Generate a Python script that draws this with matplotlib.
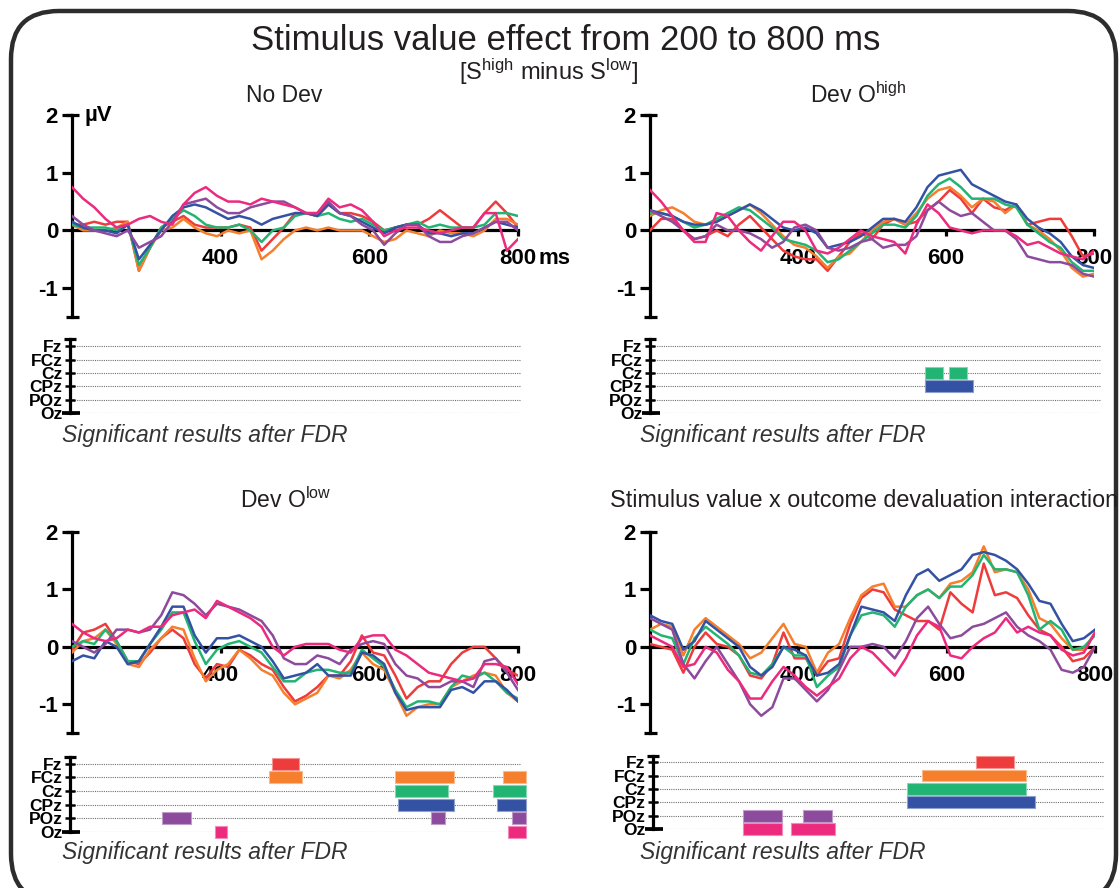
import matplotlib
matplotlib.use('Agg')
import matplotlib.pyplot as plt
from matplotlib.patches import FancyBboxPatch, Rectangle
from matplotlib.lines import Line2D
import matplotlib.colors as mcolors

plt.rcParams['font.family'] = ['Liberation Sans', 'DejaVu Sans']
plt.rcParams['mathtext.fontset'] = 'custom'
plt.rcParams['mathtext.rm'] = 'Liberation Sans'
plt.rcParams['mathtext.it'] = 'Liberation Sans:italic'
plt.rcParams['mathtext.bf'] = 'Liberation Sans:bold'

# ---------------- data ----------------
time_ms = [200, 215, 230, 245, 260, 275, 290, 305, 320, 335, 350, 365, 380, 395,
           410, 425, 440, 455, 470, 485, 500, 515, 530, 545, 560, 575, 590, 605,
           620, 635, 650, 665, 680, 695, 710, 725, 740, 755, 770, 785, 800]

electrodes = ['Fz', 'FCz', 'Cz', 'CPz', 'POz', 'Oz']
colors = {'Fz': '#EE3B3B', 'FCz': '#F57F2C', 'Cz': '#22B472',
          'CPz': '#3452A3', 'POz': '#8C4B9C', 'Oz': '#EC2A7E'}

xtick_vals = [400, 600, 800]
xtick_labels = ['400', '600', '800']
ytick_vals = [-1, 0, 1, 2]
ytick_labels = ['-1', '0', '1', '2']

# Panel 1: No Dev
nodev_fz = [0.10, 0.10, 0.15, 0.10, 0.15, 0.15, -0.70, -0.30, 0.05, 0.15, 0.25, 0.10, 0.05, 0.05,
            0.05, 0.10, 0.05, -0.35, -0.15, 0.05, 0.30, 0.30, 0.25, 0.45, 0.30, 0.30, 0.25, 0.15,
            0.00, 0.05, 0.10, 0.10, 0.20, 0.35, 0.20, 0.05, 0.05, 0.30, 0.50, 0.30, 0.05]
nodev_fcz = [0.10, 0.00, 0.00, 0.00, 0.05, 0.15, -0.70, -0.30, 0.00, 0.05, 0.20, 0.05, -0.05, -0.10,
             0.00, -0.05, 0.00, -0.50, -0.35, -0.15, 0.00, 0.05, 0.00, 0.05, 0.00, 0.00, 0.00, -0.10,
             -0.20, -0.15, 0.00, -0.05, -0.10, 0.00, -0.05, -0.05, -0.10, 0.00, 0.20, 0.20, 0.10]
nodev_cz = [0.10, 0.05, 0.05, 0.05, 0.00, 0.10, -0.60, -0.30, 0.05, 0.20, 0.35, 0.25, 0.10, 0.05,
            0.05, 0.10, 0.00, -0.20, 0.00, 0.05, 0.25, 0.30, 0.25, 0.30, 0.20, 0.15, 0.20, 0.10,
            0.00, 0.05, 0.10, 0.15, 0.05, 0.10, 0.05, 0.05, 0.05, 0.10, 0.30, 0.30, 0.25]
nodev_cpz = [0.15, 0.05, 0.00, 0.00, -0.05, 0.10, -0.50, -0.25, 0.00, 0.25, 0.40, 0.45, 0.40, 0.30,
             0.20, 0.25, 0.20, 0.10, 0.20, 0.25, 0.30, 0.30, 0.25, 0.45, 0.30, 0.25, 0.15, 0.05,
             -0.05, 0.05, 0.10, 0.10, -0.05, -0.05, -0.10, -0.05, -0.05, 0.05, 0.15, 0.10, 0.05]
nodev_poz = [0.25, 0.10, 0.00, -0.05, -0.10, 0.00, -0.30, -0.20, -0.10, 0.15, 0.45, 0.50, 0.55, 0.40,
             0.30, 0.30, 0.40, 0.45, 0.50, 0.50, 0.40, 0.30, 0.30, 0.50, 0.30, 0.25, 0.10, 0.00,
             -0.25, -0.05, 0.10, 0.10, -0.10, -0.20, -0.20, -0.10, -0.05, 0.05, 0.15, 0.15, 0.00]
nodev_oz = [0.75, 0.55, 0.40, 0.20, 0.05, 0.10, 0.20, 0.25, 0.15, 0.10, 0.45, 0.65, 0.75, 0.60,
            0.50, 0.50, 0.45, 0.55, 0.50, 0.45, 0.40, 0.30, 0.30, 0.55, 0.40, 0.45, 0.35, 0.15,
            -0.10, 0.00, 0.05, 0.05, 0.00, -0.05, 0.00, 0.05, 0.05, 0.30, 0.30, -0.35, -0.15]

# Panel 2: Dev O high
devhigh_fz = [0.00, 0.20, 0.20, 0.00, -0.15, -0.10, 0.00, -0.10, 0.10, 0.25, 0.05, -0.15, -0.35, -0.45,
              -0.50, -0.50, -0.70, -0.45, -0.20, -0.05, -0.15, 0.10, 0.20, 0.10, 0.15, 0.35, 0.50, 0.70,
              0.55, 0.30, 0.55, 0.40, 0.35, 0.45, 0.10, 0.15, 0.20, 0.20, -0.10, -0.45, -0.40]
devhigh_fcz = [0.25, 0.35, 0.40, 0.30, 0.15, 0.10, 0.15, 0.25, 0.35, 0.45, 0.30, 0.10, -0.10, -0.25,
               -0.30, -0.45, -0.65, -0.45, -0.40, -0.20, 0.00, 0.15, 0.20, 0.10, 0.30, 0.55, 0.70, 0.75,
               0.60, 0.40, 0.55, 0.50, 0.30, 0.45, 0.10, 0.00, -0.15, -0.35, -0.65, -0.80, -0.75]
devhigh_cz = [0.30, 0.30, 0.25, 0.15, 0.05, 0.10, 0.20, 0.30, 0.40, 0.35, 0.20, 0.05, -0.15, -0.20,
              -0.25, -0.35, -0.55, -0.50, -0.35, -0.20, -0.05, 0.10, 0.10, 0.05, 0.25, 0.60, 0.80, 0.90,
              0.75, 0.55, 0.55, 0.55, 0.45, 0.40, 0.10, -0.05, -0.20, -0.30, -0.55, -0.70, -0.70]
devhigh_cpz = [0.35, 0.30, 0.25, 0.15, 0.10, 0.10, 0.15, 0.25, 0.35, 0.45, 0.35, 0.20, 0.05, 0.00,
               0.05, -0.05, -0.30, -0.25, -0.20, -0.10, 0.05, 0.20, 0.20, 0.15, 0.40, 0.75, 0.95, 1.00,
               1.05, 0.80, 0.70, 0.60, 0.50, 0.45, 0.20, 0.05, -0.05, -0.20, -0.45, -0.60, -0.65]
devhigh_poz = [0.35, 0.25, 0.15, 0.00, -0.15, -0.10, 0.10, 0.00, 0.00, -0.05, -0.15, -0.30, -0.20, 0.05,
               0.10, 0.00, -0.30, -0.35, -0.30, -0.20, -0.15, -0.30, -0.25, -0.25, -0.10, 0.35, 0.50, 0.35,
               0.25, 0.30, 0.15, 0.00, 0.00, -0.15, -0.45, -0.50, -0.55, -0.55, -0.60, -0.75, -0.80]
devhigh_oz = [0.70, 0.50, 0.25, 0.00, -0.20, -0.20, 0.30, 0.25, 0.00, -0.20, -0.35, -0.10, 0.15, 0.15,
              0.00, -0.35, -0.40, -0.30, -0.15, 0.00, -0.10, -0.15, -0.20, -0.40, 0.10, 0.45, 0.30, 0.05,
              0.00, -0.05, 0.00, 0.00, 0.00, -0.10, -0.25, -0.20, -0.30, -0.40, -0.45, -0.50, -0.35]

# Panel 3: Dev O low
devlow_fz = [-0.05, 0.25, 0.30, 0.40, 0.10, -0.25, -0.30, -0.10, 0.15, 0.30, 0.15, -0.30, -0.55, -0.30,
             -0.35, -0.05, -0.15, -0.30, -0.40, -0.70, -0.95, -0.85, -0.70, -0.50, -0.50, -0.25, 0.20, -0.10,
             -0.15, -0.50, -0.90, -0.70, -0.60, -0.60, -0.30, -0.10, 0.00, 0.00, -0.20, -0.40, -0.50]
devlow_fcz = [-0.10, 0.10, 0.15, 0.30, 0.05, -0.30, -0.35, -0.05, 0.15, 0.35, 0.30, -0.20, -0.60, -0.40,
              -0.30, -0.05, -0.20, -0.40, -0.50, -0.80, -1.00, -0.90, -0.80, -0.50, -0.55, -0.40, -0.10, -0.30,
              -0.40, -0.80, -1.20, -1.05, -1.00, -1.00, -0.70, -0.60, -0.50, -0.45, -0.50, -0.80, -0.95]
devlow_cz = [0.00, 0.10, 0.05, 0.30, 0.10, -0.25, -0.25, 0.05, 0.30, 0.60, 0.60, 0.10, -0.30, -0.05,
             0.05, 0.10, 0.00, -0.10, -0.35, -0.60, -0.60, -0.45, -0.40, -0.40, -0.45, -0.45, -0.05, -0.20,
             -0.35, -0.75, -1.05, -0.95, -0.95, -1.00, -0.70, -0.50, -0.55, -0.45, -0.60, -0.80, -0.90]
devlow_cpz = [-0.25, -0.15, -0.20, 0.10, 0.00, -0.30, -0.25, 0.05, 0.35, 0.70, 0.70, 0.20, -0.10, 0.15,
              0.15, 0.20, 0.10, 0.00, -0.25, -0.55, -0.50, -0.45, -0.30, -0.50, -0.50, -0.50, -0.10, -0.15,
              -0.30, -0.80, -1.10, -1.05, -1.05, -1.05, -0.75, -0.70, -0.80, -0.60, -0.60, -0.75, -0.95]
devlow_poz = [0.10, 0.00, -0.10, 0.05, 0.30, 0.30, 0.25, 0.30, 0.55, 0.95, 0.90, 0.75, 0.55, 0.75,
              0.70, 0.65, 0.55, 0.45, 0.20, -0.20, -0.30, -0.30, -0.15, -0.20, -0.30, -0.05, 0.05, 0.10,
              0.05, -0.30, -0.50, -0.55, -0.70, -0.70, -0.60, -0.60, -0.70, -0.25, -0.20, -0.45, -0.75]
devlow_oz = [0.40, 0.25, 0.15, 0.10, 0.15, 0.30, 0.25, 0.35, 0.35, 0.55, 0.60, 0.65, 0.50, 0.80,
             0.70, 0.60, 0.50, 0.35, 0.00, -0.15, 0.00, 0.05, 0.05, 0.05, -0.05, -0.10, 0.15, 0.20,
             0.20, -0.05, -0.15, -0.30, -0.45, -0.50, -0.55, -0.60, -0.55, -0.30, -0.30, -0.35, -0.65]

# Panel 4: interaction
inter_fz = [0.05, 0.00, -0.05, -0.45, 0.00, 0.25, 0.05, 0.00, -0.15, -0.50, -0.55, -0.30, 0.25, -0.20,
            -0.20, -0.50, -0.25, -0.20, 0.40, 0.85, 1.00, 0.95, 0.65, 0.55, 0.45, 0.45, 0.30, 0.95,
            0.75, 0.60, 1.45, 0.90, 0.95, 0.85, 0.55, 0.30, 0.20, 0.00, -0.25, -0.20, 0.00]
inter_fcz = [0.30, 0.40, 0.35, -0.15, 0.30, 0.50, 0.35, 0.20, 0.05, -0.20, -0.10, 0.15, 0.40, 0.05,
             0.00, -0.45, -0.10, 0.05, 0.50, 0.90, 1.05, 1.10, 0.70, 0.70, 0.90, 1.00, 0.85, 1.10,
             1.15, 1.30, 1.75, 1.30, 1.35, 1.30, 1.00, 0.50, 0.40, 0.15, -0.05, -0.05, 0.25]
inter_cz = [0.30, 0.20, 0.15, -0.30, 0.15, 0.35, 0.20, 0.05, -0.15, -0.45, -0.50, -0.30, 0.00, -0.15,
            -0.15, -0.70, -0.50, -0.35, 0.20, 0.55, 0.60, 0.55, 0.35, 0.70, 0.90, 1.00, 0.85, 1.05,
            1.05, 1.25, 1.60, 1.35, 1.35, 1.30, 0.90, 0.30, 0.45, 0.30, -0.05, 0.00, 0.20]
inter_cpz = [0.55, 0.45, 0.40, -0.05, 0.10, 0.45, 0.30, 0.15, 0.00, -0.35, -0.50, -0.35, 0.00, -0.05,
             -0.15, -0.50, -0.45, -0.30, 0.20, 0.70, 0.65, 0.60, 0.45, 0.90, 1.25, 1.35, 1.15, 1.25,
             1.35, 1.60, 1.65, 1.60, 1.50, 1.35, 1.10, 0.80, 0.75, 0.40, 0.10, 0.15, 0.30]
inter_poz = [0.50, 0.40, 0.30, -0.30, -0.55, -0.25, 0.00, -0.30, -0.60, -1.00, -1.20, -1.05, -0.55, -0.55,
             -0.75, -0.95, -0.75, -0.40, 0.00, 0.00, 0.05, 0.00, -0.20, 0.10, 0.50, 0.70, 0.40, 0.15,
             0.20, 0.35, 0.40, 0.50, 0.60, 0.35, 0.20, 0.10, -0.05, -0.40, -0.45, -0.35, 0.00]
inter_oz = [0.20, 0.10, 0.00, -0.35, -0.30, 0.00, -0.10, -0.40, -0.60, -0.90, -0.90, -0.60, -0.35, -0.50,
            -0.70, -0.85, -0.70, -0.55, -0.20, 0.00, -0.10, -0.30, -0.50, -0.20, 0.20, 0.45, 0.35, -0.15,
            -0.20, 0.00, 0.15, 0.25, 0.50, 0.25, 0.35, 0.25, 0.20, -0.05, -0.15, -0.10, 0.25]

# Significant intervals after FDR: (electrode, start ms, end ms)
nodev_sig = []
devhigh_sig = [('Cz', 572, 596), ('Cz', 604, 628), ('CPz', 572, 636)]
devlow_sig = [('Fz', 473, 509), ('FCz', 469, 514), ('FCz', 639, 719), ('FCz', 785, 816),
              ('Cz', 639, 711), ('Cz', 772, 816), ('CPz', 643, 719), ('CPz', 777, 816),
              ('POz', 324, 364), ('POz', 688, 707), ('POz', 797, 816),
              ('Oz', 396, 412), ('Oz', 792, 816)]
inter_sig = [('Fz', 636, 688), ('FCz', 564, 704), ('Cz', 543, 704), ('CPz', 543, 716),
             ('POz', 322, 374), ('POz', 403, 442), ('Oz', 322, 374), ('Oz', 386, 446)]

panel_titles = ['No Dev', r'Dev O$^{\rm high}$', r'Dev O$^{\rm low}$',
                'Stimulus value x outcome devaluation interaction']

# ---------------- figure ----------------
W, H = 1120, 888
DPI = 100
fig = plt.figure(figsize=(W / DPI, H / DPI), dpi=DPI)
fig.patch.set_facecolor('white')
PT = 72.0 / DPI  # points per pixel
LW_AX = 2.3
TXT = '#231f20'


def add_ax(left, top, right, bottom, **kw):
    return fig.add_axes([left / W, 1 - bottom / H, (right - left) / W, (bottom - top) / H], **kw)


def ftext(x, y, s, **kw):
    return fig.text(x / W, 1 - y / H, s, **kw)


# rounded frame (pixel coordinates; the bottom edge lies just below the picture)
bg = add_ax(0, 0, W, H, zorder=-10)
bg.set_xlim(0, W)
bg.set_ylim(0, H)
bg.axis('off')
frame_left, frame_top, frame_right, frame_bottom = 11, 11, 1116, 902
bg.add_patch(FancyBboxPatch((frame_left, H - frame_bottom), frame_right - frame_left,
                            frame_bottom - frame_top, boxstyle='round,pad=0,rounding_size=48',
                            fill=False, lw=3.2, ec='#2d2d2d', clip_on=False))


def draw_erp(ax, series, show_uv=False, show_ms=False):
    ax.set_facecolor('none')
    for el, vals in zip(electrodes, series):
        ax.plot(time_ms, vals, color=colors[el], lw=1.8, zorder=3, solid_joinstyle='round')
    ax.set_xlim(200, 800)
    ax.set_ylim(-1.5, 2)
    ax.set_axisbelow(True)
    ax.spines['top'].set_visible(False)
    ax.spines['right'].set_visible(False)
    ax.spines['bottom'].set_position(('data', 0))
    ax.spines['left'].set_linewidth(LW_AX)
    ax.spines['bottom'].set_linewidth(LW_AX)
    ax.set_xticks(xtick_vals)
    ax.set_xticklabels(xtick_labels)
    ax.set_yticks(ytick_vals)
    ax.set_yticklabels(ytick_labels)
    ax.tick_params(axis='y', direction='out', length=7, width=LW_AX, pad=3, labelsize=16)
    ax.tick_params(axis='x', direction='out', length=4, width=LW_AX, pad=9, labelsize=16)
    for t in ax.get_xticklabels() + ax.get_yticklabels():
        t.set_fontweight('bold')
    wpx = ax.get_position().width * W
    c = 6.5 / wpx
    for yy in (1.0, 0.0):
        ax.add_line(Line2D([-c, c], [yy, yy], transform=ax.transAxes, color='k',
                           lw=LW_AX, clip_on=False, solid_capstyle='butt'))
    if show_uv:
        ax.annotate('µV', xy=(0, 1), xycoords='axes fraction', xytext=(13 * PT, 0),
                    textcoords='offset points', ha='left', va='center',
                    fontsize=16, fontweight='bold')
    if show_ms:
        ax.annotate('ms', xy=(1, 0), xycoords=('axes fraction', 'data'),
                    xytext=(20 * PT, -28 * PT), textcoords='offset points',
                    ha='left', va='center', fontsize=16, fontweight='bold')


def lighten(c, f=0.45):
    r, g, b = mcolors.to_rgb(c)
    return (r + (1 - r) * f, g + (1 - g) * f, b + (1 - b) * f)


def draw_sig(ax, bars):
    ax.set_facecolor('none')
    ax.set_xlim(200, 816)
    ax.set_ylim(len(electrodes) - 1, -0.5)
    rows = list(range(len(electrodes)))
    ax.hlines(rows, 200, 808, colors='#707070', linestyles=(0, (1, 1)), lw=0.8, zorder=1)
    for el, s, e in bars:
        r = electrodes.index(el)
        ax.add_patch(Rectangle((s, r - 0.44), e - s, 0.88, fc=colors[el], ec=lighten(colors[el]),
                               lw=0.8, zorder=2, clip_on=False))
    for sp in ('top', 'right', 'bottom'):
        ax.spines[sp].set_visible(False)
    ax.spines['left'].set_linewidth(LW_AX)
    ax.set_xticks([])
    ax.set_yticks(rows)
    ax.set_yticklabels(electrodes)
    ax.tick_params(axis='y', direction='inout', length=7, width=1.8, pad=2, labelsize=12.5)
    for t in ax.get_yticklabels():
        t.set_fontweight('bold')
    wpx = ax.get_position().width * W
    ax.add_line(Line2D([-8 / wpx, 10 / wpx], [0, 0], transform=ax.transAxes, color='k',
                       lw=LW_AX + 0.4, clip_on=False, solid_capstyle='butt'))
    ax.add_line(Line2D([-6 / wpx, 6 / wpx], [1, 1], transform=ax.transAxes, color='k',
                       lw=LW_AX, clip_on=False, solid_capstyle='butt'))


series_all = [
    [nodev_fz, nodev_fcz, nodev_cz, nodev_cpz, nodev_poz, nodev_oz],
    [devhigh_fz, devhigh_fcz, devhigh_cz, devhigh_cpz, devhigh_poz, devhigh_oz],
    [devlow_fz, devlow_fcz, devlow_cz, devlow_cpz, devlow_poz, devlow_oz],
    [inter_fz, inter_fcz, inter_cz, inter_cpz, inter_poz, inter_oz],
]
sig_all = [nodev_sig, devhigh_sig, devlow_sig, inter_sig]

erp_boxes = [(72, 115, 518, 317), (650, 115, 1094, 317),
             (72, 532, 518, 733), (650, 532, 1095, 733)]
sig_boxes = [(70, 339.5, 526, 413), (650, 339.5, 1106, 413),
             (70, 757, 526, 832), (653, 755.5, 1109, 829)]
title_pos = [(284, 95), (858, 95), (286, 500), (864, 500)]
fdr_pos = [(62, 435), (640, 435), (62, 852), (640, 852)]

for i in range(4):
    ax = add_ax(*erp_boxes[i])
    draw_erp(ax, series_all[i], show_uv=(i == 0), show_ms=(i == 0))
    sax = add_ax(*sig_boxes[i])
    draw_sig(sax, sig_all[i])
    ftext(*title_pos[i], panel_titles[i], ha='center', va='center',
          fontsize=(16.8 if i == 3 else 16.5), color=TXT)
    ftext(*fdr_pos[i], 'Significant results after FDR', ha='left', va='center',
          fontsize=16.5, style='italic', color='#333333')

ftext(566, 40, 'Stimulus value effect from 200 to 800 ms', ha='center', va='center',
      fontsize=25, color=TXT)
ftext(548, 72, r'[S$^{\rm high}$ minus S$^{\rm low}$]', ha='center', va='center',
      fontsize=17, color=TXT)

fig.savefig('out.png', dpi=DPI, facecolor='white')
